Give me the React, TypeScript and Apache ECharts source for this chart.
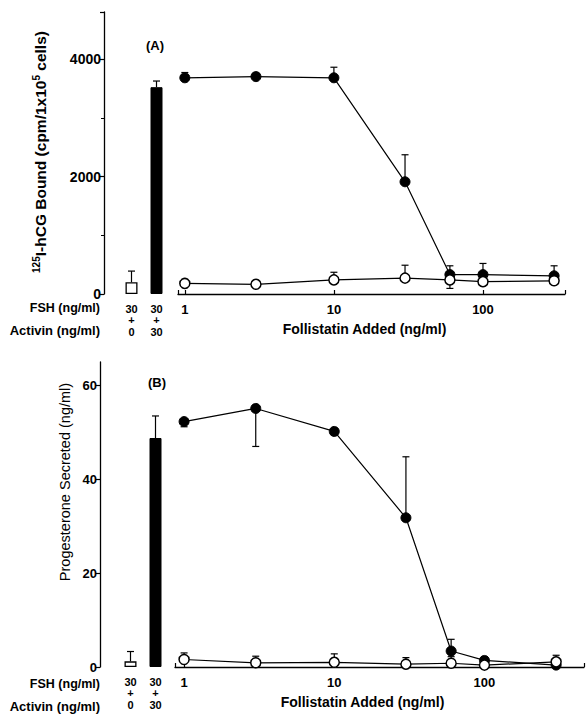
import React, { useEffect, useRef } from "react";
import * as echarts from "echarts";

// Follistatin doses (ng/ml)
const doses = [1, 3, 10, 30, 60, 100, 300];
// Bar categories (FSH + Activin)
const barCats = ["30\n+\n0", "30\n+\n30"];

// Panel A: 125I-hCG bound
const hcgBar = [200, 3520];
const hcgBarErr = [390, 3625];
const hcgActivin = [3680, 3700, 3680, 1910, 330, 330, 310];
const hcgActivinErr = [3770, 3760, 3860, 2370, 480, 520, 480];
const hcgControl = [180, 165, 240, 270, 240, 210, 225];
const hcgControlErr = [250, 200, 370, 490, 95, 210, 270];

// Panel B: progesterone secreted
const progBar = [1.2, 48.8];
const progBarErr = [3.3, 53.5];
const progActivin = [52.3, 55.1, 50.2, 31.8, 3.4, 1.4, 0.4];
const progActivinErr = [51.2, 47.0, 49.4, 44.8, 5.9, 2.2, 0];
const progControl = [1.6, 0.9, 1.0, 0.6, 0.8, 0.4, 1.1];
const progControlErr = [3.0, 2.3, 2.8, 2.0, 2.2, 1.0, 2.5];

const FONT = "'Liberation Sans', Arial, Helvetica, sans-serif";

function errSeries(xIdx: number, yIdx: number, xs: any[], vals: number[], ends: number[]) {
  return {
    type: "custom",
    xAxisIndex: xIdx,
    yAxisIndex: yIdx,
    z: 1,
    silent: true,
    data: xs.map((x, i) => [x, vals[i], ends[i]]),
    renderItem: (params: any, api: any) => {
      const x = api.value(0);
      const p0 = api.coord([x, api.value(1)]);
      const p1 = api.coord([x, api.value(2)]);
      const st = { stroke: "#000", lineWidth: 1.2 };
      return {
        type: "group",
        children: [
          { type: "line", shape: { x1: p0[0], y1: p0[1], x2: p1[0], y2: p1[1] }, style: st },
          { type: "line", shape: { x1: p1[0] - 3.5, y1: p1[1], x2: p1[0] + 3.5, y2: p1[1] }, style: st },
        ],
      };
    },
  };
}

function lineSeries(xIdx: number, yIdx: number, vals: number[], filled: boolean) {
  return {
    type: "line",
    xAxisIndex: xIdx,
    yAxisIndex: yIdx,
    z: filled ? 2 : 3,
    data: doses.map((d, i) => [d, vals[i]]),
    symbol: "circle",
    symbolSize: 10,
    showSymbol: true,
    lineStyle: { color: "#000", width: 1.2 },
    itemStyle: filled
      ? { color: "#000", borderColor: "#000", borderWidth: 1 }
      : { color: "#fff", borderColor: "#000", borderWidth: 1.5 },
  };
}

const axisLineStyle = { lineStyle: { color: "#000", width: 1.3 } };

function logXAxis(grid: number, min: number, max: number, nameShift: number) {
  return {
    type: "log",
    gridIndex: grid,
    logBase: 10,
    min,
    max,
    axisLine: { show: true, ...axisLineStyle },
    axisTick: { show: true, inside: true, length: 4, lineStyle: { color: "#000", width: 1.2 } },
    splitLine: { show: false },
    axisLabel: {
      color: "#000",
      fontFamily: FONT,
      fontWeight: "bold",
      fontSize: 13,
      margin: 9,
      formatter: (v: number) => {
        const l = Math.log10(v);
        return Math.abs(l - Math.round(l)) < 1e-6 ? String(Math.round(v)) : "";
      },
    },
    name: "Follistatin Added (ng/ml)",
    nameLocation: "middle",
    nameGap: 28,
    nameTextStyle: {
      color: "#000",
      fontFamily: FONT,
      fontWeight: "bold",
      fontSize: 14,
      padding: [0, nameShift * 2, 0, 0],
    },
  };
}

function catXAxis(grid: number) {
  return {
    type: "category",
    gridIndex: grid,
    data: barCats,
    axisLine: { show: false },
    axisTick: { show: false },
    axisLabel: {
      color: "#000",
      fontFamily: FONT,
      fontWeight: "bold",
      fontSize: 11,
      lineHeight: 11.5,
      margin: 9,
      interval: 0,
    },
  };
}

function valYAxis(
  grid: number,
  max: number,
  interval: number,
  show: boolean,
  offset: number,
  minor: boolean,
  fontSize: number
) {
  return {
    type: "value",
    gridIndex: grid,
    min: 0,
    max,
    interval,
    show,
    offset,
    axisLine: { show: true, ...axisLineStyle },
    axisTick: { show: true, inside: false, length: 4, lineStyle: { color: "#000", width: 1.2 } },
    minorTick: { show: minor, splitNumber: 2, length: 3, lineStyle: { color: "#000", width: 1 } },
    splitLine: { show: false },
    axisLabel: {
      color: "#000",
      fontFamily: FONT,
      fontWeight: "bold",
      fontSize,
      margin: 3,
      showMaxLabel: false,
      formatter: (v: number) => String(v),
    },
  };
}

function barSeries(xIdx: number, yIdx: number, vals: number[]) {
  return {
    type: "bar",
    xAxisIndex: xIdx,
    yAxisIndex: yIdx,
    barWidth: 12,
    z: 2,
    data: vals.map((v, i) => ({
      value: v,
      itemStyle:
        i === 0
          ? { color: "#fff", borderColor: "#000", borderWidth: 1.3 }
          : { color: "#000", borderColor: "#000", borderWidth: 1 },
    })),
  };
}

const textStyle = (text: string, extra: any = {}) => ({
  text,
  fill: "#000",
  fontFamily: FONT,
  fontWeight: "bold",
  fontSize: 13,
  ...extra,
});

export default function App() {
  const ref = useRef<HTMLDivElement>(null);
  useEffect(() => {
    if (!ref.current) return;
    document.body.style.margin = "0";
    const chart = echarts.init(ref.current, undefined, { renderer: "svg" });
    const option: any = {
      animation: false,
      backgroundColor: "#fff",
      grid: [
        { left: 119, top: 12, width: 50, height: 282 },
        { left: 178, right: 22, top: 12, height: 282 },
        { left: 118, top: 362, width: 50, height: 305 },
        { left: 175, right: 1, top: 362, height: 305 },
      ],
      xAxis: [catXAxis(0), logXAxis(1, 0.9, 355, 7), catXAxis(2), logXAxis(3, 0.87, 460, 17)],
      yAxis: [
        valYAxis(0, 4800, 2000, true, 15, true, 14),
        valYAxis(1, 4800, 2000, false, 0, false, 14),
        valYAxis(2, 65, 20, true, 18, false, 13),
        valYAxis(3, 65, 20, false, 0, false, 13),
      ],
      series: [
        barSeries(0, 0, hcgBar),
        errSeries(0, 0, [0, 1], hcgBar, hcgBarErr),
        errSeries(1, 1, doses, hcgActivin, hcgActivinErr),
        errSeries(1, 1, doses, hcgControl, hcgControlErr),
        lineSeries(1, 1, hcgActivin, true),
        lineSeries(1, 1, hcgControl, false),
        barSeries(2, 2, progBar),
        errSeries(2, 2, [0, 1], progBar, progBarErr),
        errSeries(3, 3, doses, progActivin, progActivinErr),
        errSeries(3, 3, doses, progControl, progControlErr),
        lineSeries(3, 3, progActivin, true),
        lineSeries(3, 3, progControl, false),
      ],
      graphic: [
        {
          type: "text",
          x: 40,
          y: 152,
          rotation: Math.PI / 2,
          style: textStyle("{sup|125}I-hCG Bound (cpm/1x10{sup|5} cells)", {
            align: "center",
            verticalAlign: "middle",
            fontSize: 15.5,
            lineHeight: 18,
            rich: {
              sup: {
                fontSize: 10,
                fontFamily: FONT,
                fontWeight: "bold",
                verticalAlign: "top",
                lineHeight: 18,
                padding: [0, 0, 7, 0],
              },
            },
          }),
        },
        {
          type: "text",
          x: 65,
          y: 482,
          rotation: Math.PI / 2,
          style: textStyle("Progesterone Secreted (ng/ml)", {
            align: "center",
            verticalAlign: "middle",
            fontSize: 14.5,
            fontWeight: "normal",
          }),
        },
        { type: "text", x: 155, y: 45, style: textStyle("(A)", { align: "center", verticalAlign: "middle" }) },
        { type: "text", x: 157, y: 382, style: textStyle("(B)", { align: "center", verticalAlign: "middle" }) },
        { type: "text", x: 100, y: 308, style: textStyle("FSH (ng/ml)", { align: "right", verticalAlign: "middle", fontSize: 12.5 }) },
        { type: "text", x: 100, y: 330, style: textStyle("Activin (ng/ml)", { align: "right", verticalAlign: "middle" }) },
        { type: "text", x: 100, y: 684, style: textStyle("FSH (ng/ml)", { align: "right", verticalAlign: "middle", fontSize: 12.5 }) },
        { type: "text", x: 100, y: 706, style: textStyle("Activin (ng/ml)", { align: "right", verticalAlign: "middle" }) },
      ],
    };
    chart.setOption(option);
    return () => chart.dispose();
  }, []);
  return <div ref={ref} style={{ width: 587, height: 715 }} />;
}
